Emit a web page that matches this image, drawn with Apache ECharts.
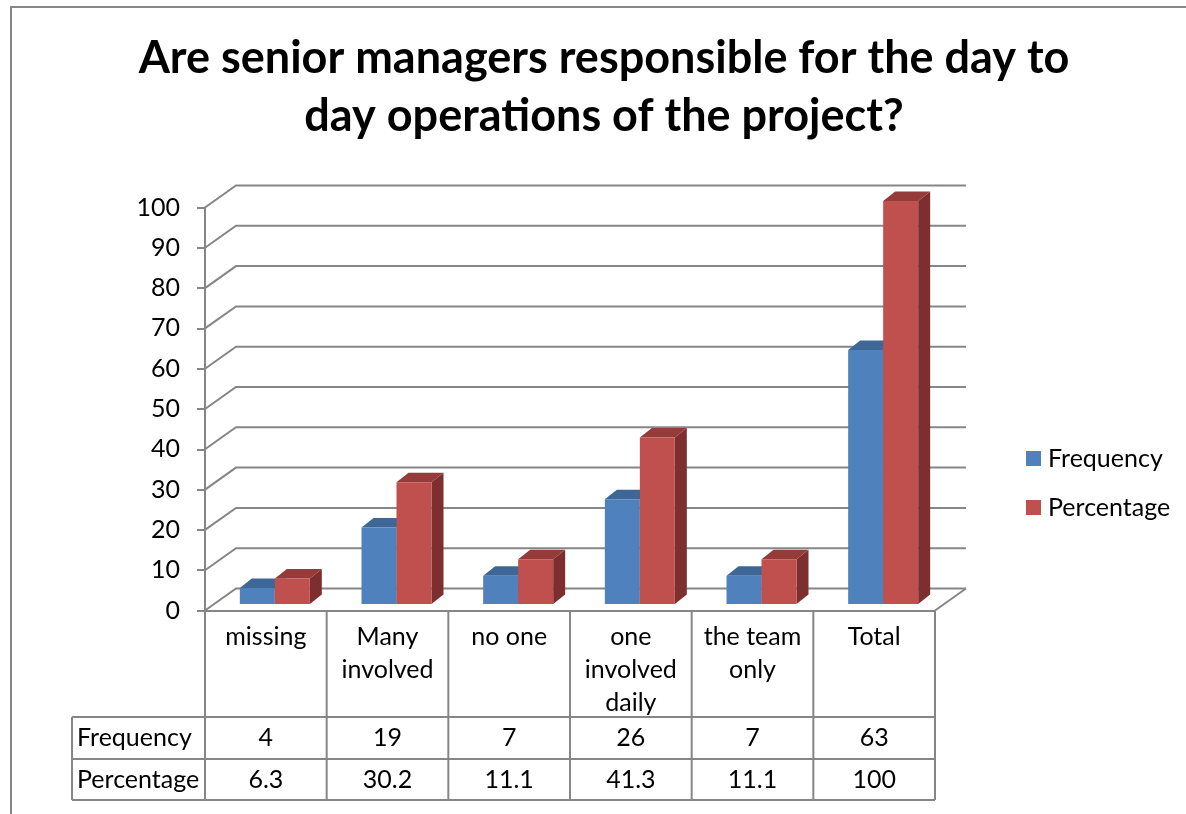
<!DOCTYPE html>
<html>
<head>
<meta charset="utf-8">
<style>
  html, body { margin: 0; padding: 0; background: #fff; }
  #chart { width: 1186px; height: 814px; }
</style>
<script src="https://cdn.jsdelivr.net/npm/echarts@6/dist/echarts.min.js"></script>
</head>
<body>
<div id="chart"></div>
<script>
var chartTitle = 'Are senior managers responsible for the day to\nday operations of the project?';
var categories = ['missing', 'Many\ninvolved', 'no one', 'one\ninvolved\ndaily', 'the team\nonly', 'Total'];
var frequency = [4, 19, 7, 26, 7, 63];
var percentage = [6.3, 30.2, 11.1, 41.3, 11.1, 100];
var frequencyLabels = ['4', '19', '7', '26', '7', '63'];
var percentageLabels = ['6.3', '30.2', '11.1', '41.3', '11.1', '100'];
var yTicks = [0, 10, 20, 30, 40, 50, 60, 70, 80, 90, 100];

var FONT = 'Lato';
var LINE = '#868686';
var WALL_DX = 31, WALL_DY = -22;   // back wall offset
var BAR_DX = 9, BAR_DY = -6.5;     // bars stand a bit inside the floor
var BAR_W = 35, DEPTH_X = 12, DEPTH_Y = -9.5;
var ROW_TOP = 717, ROW_MID = 759, ROW_BOTTOM = 800, LABEL_LEFT = 72;

var chart = echarts.init(document.getElementById('chart'));

function wallItem(params, api) {
  var rect = params.coordSys;
  var y = api.coord([0, api.value(0)])[1];
  var left = rect.x, right = rect.x + rect.width;
  var style = { stroke: LINE, lineWidth: 2, fill: null };
  var children = [{
    type: 'polyline',
    shape: { points: [[left, y], [left + WALL_DX, y + WALL_DY], [right + WALL_DX, y + WALL_DY]] },
    style: style
  }];
  if (api.value(0) === 0) {
    children.push({
      type: 'line',
      shape: { x1: right, y1: y, x2: right + WALL_DX, y2: y + WALL_DY },
      style: { stroke: LINE, lineWidth: 2 }
    });
  }
  return { type: 'group', children: children };
}

// one 3D box, offset from the band centre
function barRenderer(offset, front, top, side) {
  return function (params, api) {
    var p = api.coord([api.value(0), api.value(1)]);
    var base = api.coord([api.value(0), 0]);
    var x = p[0] + BAR_DX + offset;
    var yTop = p[1] + BAR_DY;
    var yBase = base[1] + BAR_DY;
    return {
      type: 'group',
      children: [{
        type: 'polygon',
        shape: { points: [[x + BAR_W, yTop], [x + BAR_W + DEPTH_X, yTop + DEPTH_Y], [x + BAR_W + DEPTH_X, yBase + DEPTH_Y], [x + BAR_W, yBase]] },
        style: { fill: side }
      }, {
        type: 'polygon',
        shape: { points: [[x, yTop], [x + DEPTH_X, yTop + DEPTH_Y], [x + BAR_W + DEPTH_X, yTop + DEPTH_Y], [x + BAR_W, yTop]] },
        style: { fill: top }
      }, {
        type: 'rect',
        shape: { x: x, y: yTop, width: BAR_W, height: yBase - yTop },
        style: { fill: front }
      }]
    };
  };
}

function cellText(x, y, text, align) {
  return {
    type: 'text',
    style: { x: x, y: y, text: text, fill: '#000', font: '25px ' + FONT, align: align || 'center', verticalAlign: 'middle' }
  };
}

function vLine(x, y1, y2) {
  return { type: 'line', shape: { x1: x, y1: y1, x2: x, y2: y2 }, style: { stroke: LINE, lineWidth: 2 } };
}

function hLine(x1, x2, y) {
  return { type: 'line', shape: { x1: x1, y1: y, x2: x2, y2: y }, style: { stroke: LINE, lineWidth: 2 } };
}

function tableItem(params, api) {
  var i = api.value(0);
  var rect = params.coordSys;
  var cx = api.coord([i, 0])[0];
  var band = api.size([1, 0])[0];
  var right = rect.x + rect.width;
  var children = [
    vLine(cx - band / 2, rect.y + rect.height, ROW_BOTTOM),
    cellText(cx, (ROW_TOP + ROW_MID) / 2, frequencyLabels[i]),
    cellText(cx, (ROW_MID + ROW_BOTTOM) / 2, percentageLabels[i])
  ];
  if (i === 0) {
    children.push(
      vLine(LABEL_LEFT, ROW_TOP, ROW_BOTTOM),
      vLine(right, rect.y + rect.height, ROW_BOTTOM),
      hLine(LABEL_LEFT, right, ROW_TOP),
      hLine(LABEL_LEFT, right, ROW_MID),
      hLine(LABEL_LEFT, right, ROW_BOTTOM),
      cellText(77, (ROW_TOP + ROW_MID) / 2, 'Frequency', 'left'),
      cellText(77, (ROW_MID + ROW_BOTTOM) / 2, 'Percentage', 'left')
    );
  }
  return { type: 'group', children: children };
}

var option = {
  animation: false,
  backgroundColor: '#fff',
  title: {
    text: chartTitle,
    left: 599,
    top: 24,
    textAlign: 'center',
    textStyle: { fontFamily: FONT, fontWeight: 'bold', fontSize: 45, lineHeight: 58, color: '#000' }
  },
  grid: { left: 205, right: 251, top: 207.5, height: 403 },
  legend: {
    orient: 'vertical',
    left: 1026,
    top: 446,
    padding: 0,
    itemWidth: 15,
    itemHeight: 15,
    itemGap: 24,
    icon: 'rect',
    selectedMode: false,
    data: ['Frequency', 'Percentage'],
    textStyle: { fontFamily: FONT, fontSize: 25, lineHeight: 25, color: '#000', padding: [0, 0, 0, 2] }
  },
  xAxis: {
    type: 'category',
    data: categories,
    axisLine: { lineStyle: { color: LINE, width: 2 } },
    axisTick: { show: false },
    axisLabel: { interval: 0, margin: 10, fontFamily: FONT, fontSize: 25, lineHeight: 33, color: '#000', verticalAlign: 'top' }
  },
  yAxis: {
    type: 'value',
    min: 0,
    max: 100,
    interval: 10,
    splitLine: { show: false },
    axisLine: { show: true, lineStyle: { color: LINE, width: 2 } },
    axisTick: { show: true, length: 8, lineStyle: { color: LINE, width: 2 } },
    axisLabel: { margin: 25, fontFamily: FONT, fontSize: 25, color: '#000', padding: [3, 0, 0, 0] }
  },
  graphic: [{
    type: 'polyline',
    shape: { points: [[11, 814], [11, 7], [1186, 7]] },
    style: { stroke: LINE, lineWidth: 2, fill: null }
  }],
  series: [{
    type: 'custom',
    name: 'wall',
    silent: true,
    z: 1,
    renderItem: wallItem,
    encode: { y: 0 },
    data: yTicks.map(function (v) { return [v]; })
  }, {
    type: 'custom',
    name: 'Frequency',
    z: 2,
    itemStyle: { color: '#4F81BD' },
    renderItem: barRenderer(-BAR_W, '#4F81BD', '#3D6797', '#355A86'),
    encode: { x: 0, y: 1 },
    data: frequency.map(function (v, i) { return [i, v]; })
  }, {
    type: 'custom',
    name: 'Percentage',
    z: 3,
    itemStyle: { color: '#C0504D' },
    renderItem: barRenderer(0, '#C0504D', '#953B39', '#7C2F2E'),
    encode: { x: 0, y: 1 },
    data: percentage.map(function (v, i) { return [i, v]; })
  }, {
    type: 'custom',
    name: 'table',
    silent: true,
    z: 4,
    renderItem: tableItem,
    encode: { x: 0 },
    data: categories.map(function (c, i) { return [i]; })
  }]
};

chart.setOption(option);
</script>
</body>
</html>
